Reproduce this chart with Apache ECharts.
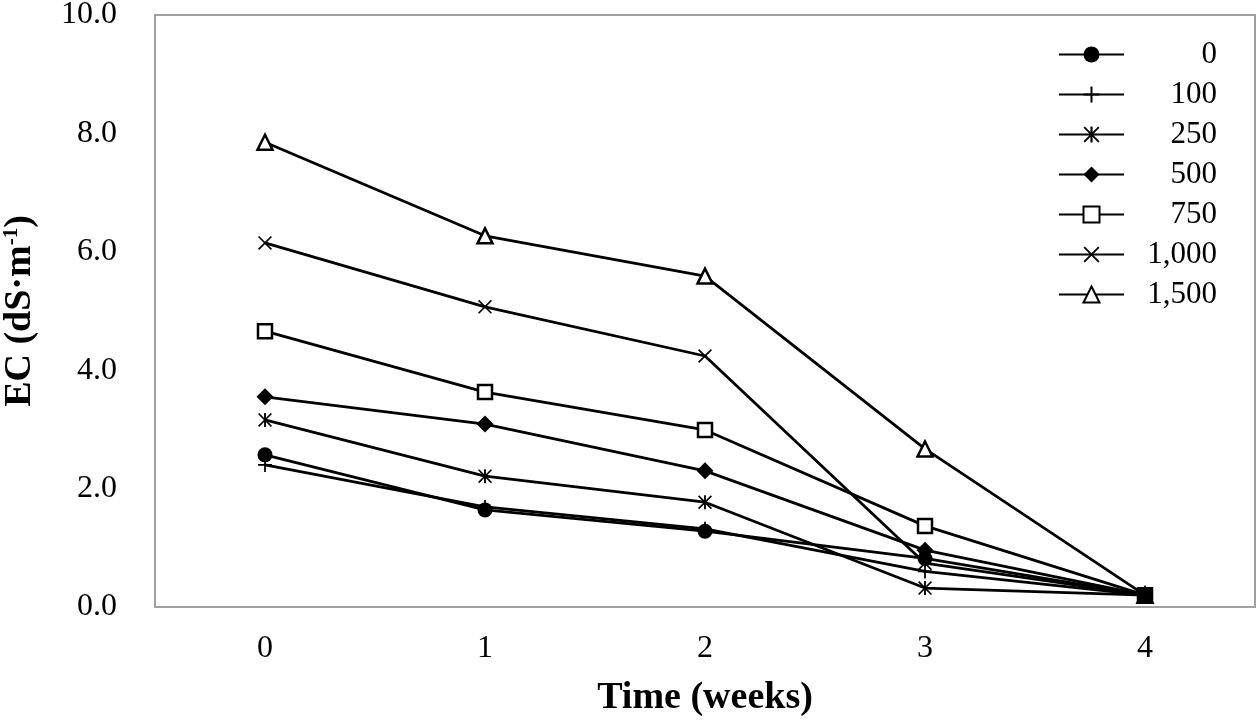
<!DOCTYPE html>
<html><head><meta charset="utf-8">
<script src="https://cdn.jsdelivr.net/npm/echarts@6/dist/echarts.min.js"></script>
<style>html,body{margin:0;padding:0;background:#fff}#c{width:1260px;height:721px}</style>
</head><body><div id="c"></div>
<script>
const weeks = ['0','1','2','3','4'];
const seriesNames = ['0','100','250','500','750','1,000','1,500'];
const s0    = [2.57, 1.64, 1.28, 0.82, 0.20];
const s100  = [2.40, 1.69, 1.32, 0.60, 0.20];
const s250  = [3.16, 2.21, 1.77, 0.32, 0.20];
const s500  = [3.55, 3.09, 2.30, 0.96, 0.20];
const s750  = [4.66, 3.63, 2.99, 1.37, 0.20];
const s1000 = [6.15, 5.07, 4.24, 0.74, 0.20];
const s1500 = [7.85, 6.27, 5.59, 2.67, 0.20];
const allData = [s0, s100, s250, s500, s750, s1000, s1500];

const PLUS = 'path://M5.25,0 L6.75,0 L6.75,12 L5.25,12 Z M0,5.25 L12,5.25 L12,6.75 L0,6.75 Z';
const XS = 'path://M0,1 L1,0 L12,11 L11,12 Z M11,0 L12,1 L1,12 L0,11 Z';
const AST = 'path://M0,1 L1,0 L12,11 L11,12 Z M11,0 L12,1 L1,12 L0,11 Z M5.2,0 L6.8,0 L6.8,12 L5.2,12 Z';
const symbols = [
  {symbol:'circle', size:15, fill:'#000', z:6},
  {symbol:PLUS, size:14, fill:'#000', z:5},
  {symbol:AST, size:14, fill:'#000', z:5},
  {symbol:'diamond', size:17, fill:'#000', z:6},
  {symbol:'rect', size:14, fill:'#fff', z:3},
  {symbol:XS, size:14, fill:'#000', z:4},
  {symbol:'triangle', size:15, fill:'#fff', z:2}
];
const font = '"Liberation Serif", "Times New Roman", serif';

const chart = echarts.init(document.getElementById('c'));
chart.setOption({
  animation:false,
  backgroundColor:'#fff',
  textStyle:{fontFamily:font, color:'#000'},
  grid:{left:155, right:5, top:15, bottom:114, show:true, borderColor:'#a0a0a0', borderWidth:2,
        containLabel:false, outerBoundsMode:'none'},
  legend:{
    left:1053, top:34, orient:'vertical', itemWidth:65, itemHeight:20, itemGap:9,
    data:seriesNames,
    formatter: n => '{a|' + n + '}',
    textStyle:{fontFamily:font, color:'#000', fontSize:31,
      rich:{a:{width:88, align:'right', lineHeight:31, fontFamily:font, fontSize:31, color:'#000'}}}
  },
  xAxis:{
    type:'category', data:weeks, boundaryGap:true,
    axisLine:{show:false}, axisTick:{show:false}, splitLine:{show:false},
    axisLabel:{fontFamily:font, fontSize:32, color:'#000', margin:26},
    name:'Time (weeks)', nameLocation:'middle', nameGap:72,
    nameTextStyle:{fontFamily:font, fontSize:38, fontWeight:'bold', color:'#000'}
  },
  yAxis:{
    type:'value', min:0, max:10, interval:2,
    axisLine:{show:false}, axisTick:{show:false}, splitLine:{show:false},
    axisLabel:{fontFamily:font, fontSize:32, color:'#000', margin:38, formatter:v=>v.toFixed(1)},
    name:'EC (dS·m{sup|-1})', nameLocation:'middle', nameGap:115, nameRotate:90,
    nameTextStyle:{fontFamily:font, fontSize:38, fontWeight:'bold', color:'#000',
      rich:{sup:{fontFamily:font, fontSize:21, fontWeight:'bold', color:'#000', padding:[0,0,18,0]}}}
  },
  series: seriesNames.map((n,i)=>({
    name:n, type:'line', data:allData[i], z:symbols[i].z,
    symbol:symbols[i].symbol, symbolSize:symbols[i].size, showAllSymbol:true,
    lineStyle:{color:'#000', width:2.8},
    itemStyle:{color:symbols[i].fill, borderColor:'#000', borderWidth: symbols[i].fill==='#fff'?2.5:0},
    emphasis:{disabled:true}
  }))
});
</script></body></html>
